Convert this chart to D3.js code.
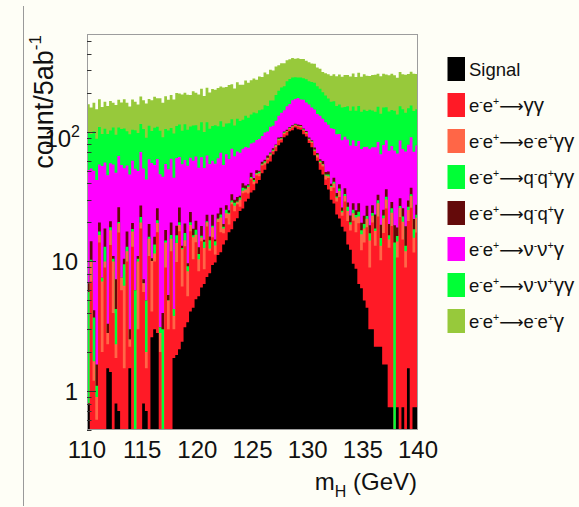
<!DOCTYPE html>
<html><head><meta charset="utf-8">
<script src="https://cdn.jsdelivr.net/npm/d3@7"></script>
<style>
body{margin:0;background:#fefef6}
svg{display:block}
text{font-family:"Liberation Sans",Arial,Helvetica,sans-serif;fill:#111}
</style>
</head><body>
<svg id="c" width="579" height="507"></svg>
<script>
// ---- data ----
const massRange = [110, 140];
const nBins = 120;
const xTickLabels = ["110","115","120","125","130","135","140"];
const xTickValues = [110,115,120,125,130,135,140];
const yMajorTicks = [1, 10, 100];
const yDomain = [0.5, 570];

const signal = [
0.8,0,0,0,0,0,0,1.5,1.4,0,
0.8,0.7,0,0,0,1.5,0,0,0,0,
0.8,0.7,0,2.6,3,2.8,0,0,0,0,
0,1.8,1.9,2.1,2.4,3.1,3.4,4.1,4.4,5.1,
5.4,6.3,6.7,7.6,8.1,9.4,9.8,11.2,11.8,13.5,
14.6,16.8,17.7,20.4,21.6,24.5,25.6,29,30.5,34,
35.5,40,42.5,48,51,57,59,67,71,79,
83,91,94,101,103,108,105,104,96,92,
82,76,66,60,51,47,39,36,30,28,
23,21.5,18.5,17,13.5,12.3,9.6,8.8,6.7,6.2,
5,4.4,3,3,2.2,2.2,2.2,1.6,1.6,0.75,
0.75,0,0.75,0,0.75,0,1.5,0,0.75,0.75];

const eeToGG = [
0,7,1.2,0.6,14,2,9,0.8,12,4,
1,16,6,1.5,10,0.7,13,0,3,18,
5,0.8,11,1.5,7,14,2,0,9,3,
12,1.2,8,15,4,10,2,13,6,9,
3,8,2,11,4,6,1.5,9,5,3,
7,2.5,10,4,6,2,8,5,3,9,
4,6,3,7,5,4,6,3.5,5,7,
4,5,6,4,5,3.5,5,4,6,5,
4,6,5,3.5,6,7,4,8,5,9,
6,10,4,12,7,5,11,8,13,6,
9,14,6,17,11,20,8,15,24,12,
18,0,10,22,14,9,19,26,11,16];

const eeToEEGG = [
0,3,0.5,0.3,2,5,1,0.5,4,6,
0.5,3,1.5,5,2,0.3,4,0,7,2,
1,0.5,4,6,1.5,3,0.8,0,5,2,
3,0.8,4,2,6,1.5,3,2,5,2,
2,1,4,1.5,0.5,3,2,1,5,1.5,
2,4,1,2.5,1,3.5,1.5,2,4,1,
2,1.5,2.5,1,2,1.5,2,1,2.5,1.5,
1.5,2,1,1.5,2,1.5,1,2,1.5,2,
1.5,2,1,2.5,1.5,2,3,1.5,2.5,3,
2,3.5,1.5,3,4,2,3,5,2.5,4,
4,3,5.5,2.5,4,6,3,5,4.5,2,
5,0,3.5,4,5.5,3,4.5,6,3.5,5];

const eeToQQGG = [
5,0.3,2,0.2,1,0.5,3,0,1,0.5,
2,0.5,0,3,1,0,0.8,6,0.5,2,
0,3,0.5,0,2,1,0.3,3,0.5,0,
1,0.5,2,1,0.3,2,0.8,1,0.5,1.5,
1,0.5,1.5,0.3,2,0.5,1,0.3,1.2,0.5,
1.5,0.5,0.8,1.5,0.4,1.2,2,0.5,1,0.8,
1,0.6,1.2,0.8,1.5,0.7,1,1.3,0.6,1,
0.8,1.2,0.6,1,0.8,1.2,0.6,1,1.3,0.7,
1,0.7,1.2,0.8,1.5,0.6,1,1.4,0.8,1.2,
0.8,1.5,0.6,1.2,2,0.8,1.5,1,2,1.2,
1.5,1,2,1.2,0.8,1.5,2,1,1.5,1.2,
2,14,1.5,0.8,2,1.2,1.5,1,2.5,1.2];

const eeToQQG = [
1,4,0.5,0.5,3,0,5,0.5,2,0.5,
3,6,0,1,4,0.5,2,0,0.5,5,
0.5,0,4,0.5,2,5,0,1,3,0.5,
4,0,3,6,0.5,3,0.5,4,2,3,
1.5,3,0.5,2.5,1,4,0.5,2,3,1,
2,1,3.5,1.5,2.5,1,3,2,1,3.5,
1.5,2.5,1,2,1.5,2.5,1.5,2,1,2,
2,1.5,2.5,1.5,2,1.5,2.5,2,1.5,2,
2,1.5,2.5,2,1.5,3,2,2.5,1.5,3,
2,3,1.5,3.5,2,2.5,3,2,4,2.5,
3,4.5,2.5,3.5,5,3,4,2.5,4.5,3.5,
3,5,2.5,4,3.5,5.5,3,4,3.5,4.5];

const eeToNNG = [
44,38,46,41,36,47,40,43,37,45,
41,39,48,42,38,44,40,46,39,43,
45,38,42,47,40,36,44,41,39,46,
42,40,44,38,43,41,45,39,42,44,
40,45,38,43,41,37,42,39,43,36,
40,37,41,35,39,37,34,38,36,33,
39,36,38,34,38,35,40,37,42,43,
49,46,54,55,63,64,69,65,71,67,
72,68,73,69,72,67,70,64,67,61,
62,57,60,55,59,56,58,53,57,54,
54,50,55,49,53,51,48,54,50,52,
49,53,50,55,48,52,50,54,49,51];

const eeToNNGG = [
49,44,51,46,53,42,48,50,45,52,
47,43,50,54,46,49,44,51,48,45,
53,47,50,44,52,48,55,46,49,51,
45,53,48,50,46,54,49,47,52,48,
50,55,47,53,49,51,56,48,52,54,
49,55,51,47,56,52,50,57,53,55,
58,53,59,56,62,58,65,63,71,74,
80,78,88,92,87,84,80,85,82,86,
84,89,91,87,82,76,72,68,64,67,
63,66,68,64,70,67,71,68,73,69,
72,68,74,70,67,73,71,75,69,72,
70,74,68,72,76,70,73,69,75,71];

const eeToEEG = [
64,58,67,61,70,59,65,62,71,60,
66,69,63,72,67,61,74,68,65,73,
70,76,68,74,79,72,80,77,83,75,
86,81,89,84,92,86,90,83,94,88,
92,97,90,100,96,104,99,108,103,111,
106,113,108,104,115,110,107,116,111,114,
118,113,121,117,126,120,128,123,127,120,
118,114,112,108,110,104,108,102,106,100,
98,94,96,90,92,88,93,97,101,106,
110,115,113,119,117,122,125,120,128,124,
130,126,122,129,133,125,131,127,123,130,
134,128,126,132,129,135,127,131,136,130];

// legend labels: segments [text, mode]  n normal, s superscript, a arrow, g greek
const legendLabels = [
  [["Signal","n"]],
  [["e","n"],["-","s"],["e","n"],["+","s"],["\u27f6","a"],["\u03b3\u03b3","g"]],
  [["e","n"],["-","s"],["e","n"],["+","s"],["\u27f6","a"],["e","n"],["-","s"],["e","n"],["+","s"],["\u03b3\u03b3","g"]],
  [["e","n"],["-","s"],["e","n"],["+","s"],["\u27f6","a"],["q","n"],["-","s"],["q","n"],["+","s"],["\u03b3\u03b3","g"]],
  [["e","n"],["-","s"],["e","n"],["+","s"],["\u27f6","a"],["q","n"],["-","s"],["q","n"],["+","s"],["\u03b3","g"]],
  [["e","n"],["-","s"],["e","n"],["+","s"],["\u27f6","a"],["\u03bd","g"],["-","s"],["\u03bd","g"],["+","s"],["\u03b3","g"]],
  [["e","n"],["-","s"],["e","n"],["+","s"],["\u27f6","a"],["\u03bd","g"],["-","s"],["\u03bd","g"],["+","s"],["\u03b3\u03b3","g"]],
  [["e","n"],["-","s"],["e","n"],["+","s"],["\u27f6","a"],["e","n"],["-","s"],["e","n"],["+","s"],["\u03b3","g"]]
];
const colors = ["#000000","#ff1a26","#ff6647","#00ff36","#640a0a","#ff00ff","#00ff36","#97c93b"];
const stackValues = [signal, eeToGG, eeToEEGG, eeToQQGG, eeToQQG, eeToNNG, eeToNNGG, eeToEEG];

// ---- drawing ----
const svg = d3.select("#c");
const W = 579, H = 507;
const L = 87, R = 418, T = 34, B = 430;
svg.append("rect").attr("width",W).attr("height",H).attr("fill","#fefef6");
svg.append("line").attr("x1",23.5).attr("x2",23.5).attr("y1",6).attr("y2",506)
   .attr("stroke","#9a9a9a").attr("stroke-width",1);

const x = d3.scaleLinear().domain(massRange).range([L, R]);
const y = d3.scaleLog().domain(yDomain).range([B, T]).clamp(true);
const bw = (massRange[1]-massRange[0]) / nBins;

svg.append("clipPath").attr("id","frame").append("rect")
   .attr("x",L).attr("y",T).attr("width",R-L).attr("height",B-T);

const cums = [];
let run = new Array(nBins).fill(0);
stackValues.forEach(v => { run = run.map((c,i)=>c+v[i]); cums.push(run); });

const g = svg.append("g").attr("clip-path","url(#frame)");
const area = d3.area()
  .x(d => x(d.m))
  .y0(B)
  .y1(d => d.v > yDomain[0] ? y(d.v) : B);

for (let k = cums.length-1; k >= 0; k--) {
  const pts = [];
  cums[k].forEach((v,i) => {
    const m0 = massRange[0] + i*bw;
    pts.push({m:m0, v:v}, {m:m0+bw, v:v});
  });
  g.append("path").attr("d", area(pts)).attr("fill", colors[k]);
}

svg.append("rect").attr("x",L+0.5).attr("y",T+0.5).attr("width",R-L-1).attr("height",B-T-1)
   .attr("fill","none").attr("stroke","#9d9d9d").attr("stroke-width",1);

const minor = [];
for (let e = -1; e <= 2; e++) for (let d = 1; d <= 9; d++) {
  const v = d*Math.pow(10,e);
  if (v >= yDomain[0] && v <= yDomain[1]) minor.push(v);
}
minor.forEach(v => {
  const major = yMajorTicks.includes(v);
  svg.append("line").attr("x1",L).attr("x2",L+(major?9:4.5))
    .attr("y1",Math.round(y(v))+0.5).attr("y2",Math.round(y(v))+0.5)
    .attr("stroke","#333").attr("stroke-width",1);
});

svg.append("text").attr("x",78).attr("y",y(1)+8.6).attr("text-anchor","end")
  .attr("font-size",24).text("1");
svg.append("text").attr("x",78).attr("y",y(10)+8.6).attr("text-anchor","end")
  .attr("font-size",24).text("10");
const t100 = svg.append("text").attr("x",80).attr("y",y(100)+15).attr("text-anchor","end")
  .attr("font-size",24);
t100.append("tspan").text("10");
t100.append("tspan").attr("font-size",16).attr("dy",-10).text("2");

xTickValues.forEach((v,i) => {
  svg.append("text").attr("x",x(v)).attr("y",458).attr("text-anchor","middle")
    .attr("font-size",24).text(xTickLabels[i]);
});

const xt = svg.append("text").attr("x",417).attr("y",490).attr("text-anchor","end").attr("font-size",24);
xt.append("tspan").text("m");
xt.append("tspan").attr("font-size",16).attr("dy",7).text("H");
xt.append("tspan").attr("dy",-7).text(" (GeV)");

const yt = svg.append("text").attr("transform","translate(53,35) rotate(-90)")
  .attr("text-anchor","end").attr("font-size",27);
yt.append("tspan").text("count/5ab");
yt.append("tspan").attr("font-size",17).attr("dy",-12).text("-1");

legendLabels.forEach((segs,i) => {
  const cy = 69 + i*36;
  svg.append("rect").attr("x",447.5).attr("y",cy-12).attr("width",17.5).attr("height",24)
    .attr("fill",colors[i]);
  const t = svg.append("text").attr("x",469).attr("y",cy+6.5).attr("font-size",18.5);
  let shifted = false;
  segs.forEach(([s,mode]) => {
    const ts = t.append("tspan").text(s);
    if (mode === "s") { ts.attr("font-size",10.5).attr("dy", shifted ? 0 : -7); shifted = true; }
    else {
      if (shifted) ts.attr("dy",7);
      shifted = false;
      if (mode === "a") ts.attr("font-family","DejaVu Sans").attr("font-size",17);
      if (mode === "g") ts.attr("font-size",20.5);
    }
  });
});
</script>
</body></html>
